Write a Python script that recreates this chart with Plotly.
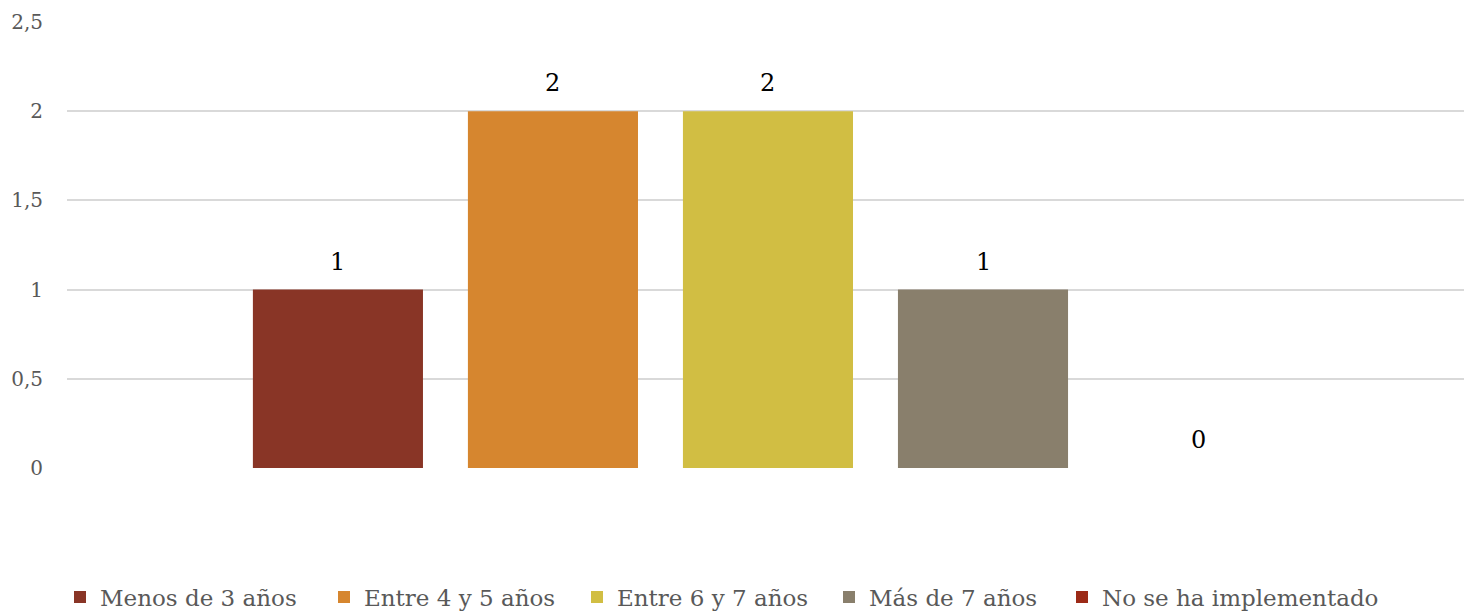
import plotly.graph_objects as go

# Años desde la implementación (número de respuestas)
categorias = ["Menos de 3 años", "Entre 4 y 5 años", "Entre 6 y 7 años",
              "Más de 7 años", "No se ha implementado"]
valores = [1, 2, 2, 1, 0]
colores = ["#893526", "#D6862F", "#D1BE43", "#897F6C", "#9C2A17"]

ticks_y = [0, 0.5, 1, 1.5, 2, 2.5]
etiquetas_y = ["0", "0,5", "1", "1,5", "2", "2,5"]

# Posición horizontal (px) donde arranca el texto de cada entrada de la leyenda
inicio_leyenda = [100, 364, 617, 869, 1102]

FUENTE = "DejaVu Serif"
ANCHO, ALTO = 1464, 613

fig = go.Figure()
leyendas = {}
for i, (cat, val, col) in enumerate(zip(categorias, valores, colores)):
    nombre_ley = "legend" if i == 0 else f"legend{i + 1}"
    fig.add_trace(go.Bar(
        x=[cat], y=[val], name=cat,
        marker=dict(color=col, line=dict(width=0)),
        hoverinfo="x+y", legend=nombre_ley,
    ))
    leyendas[nombre_ley] = dict(
        orientation="h", xref="container", yref="container",
        x=(inicio_leyenda[i] - 40) / ANCHO, xanchor="left",
        y=1 - 597 / ALTO, yanchor="middle",
        font=dict(family=FUENTE, size=23, color="#595959"),
        itemwidth=30, bgcolor="rgba(0,0,0,0)",
    )

# Etiquetas de valor sobre cada barra
for cat, val in zip(categorias, valores):
    fig.add_annotation(
        x=cat, y=val, text=str(val), showarrow=False,
        yanchor="middle", yshift=28,
        font=dict(family=FUENTE, size=24, color="#000000"),
    )

fig.update_layout(
    width=ANCHO, height=ALTO,
    margin=dict(l=67, r=0, t=22, b=145),
    paper_bgcolor="white", plot_bgcolor="white",
    barmode="overlay", bargap=0.209,
    font=dict(family=FUENTE, color="#595959"),
    showlegend=True,
    **leyendas,
)
fig.update_xaxes(
    type="category", categoryorder="array", categoryarray=categorias,
    range=[-1.26, 5.237], showticklabels=False, showgrid=False,
    zeroline=False, showline=False, ticks="",
)
fig.update_yaxes(
    range=[0, 2.5], tickvals=ticks_y, ticktext=etiquetas_y,
    showgrid=True, gridcolor="#D9D9D9", gridwidth=1.5,
    zeroline=False, showline=False, ticks="",
    tickfont=dict(family=FUENTE, size=20, color="#595959"),
    ticklabelstandoff=23,
)

fig.write_html("out.html")
